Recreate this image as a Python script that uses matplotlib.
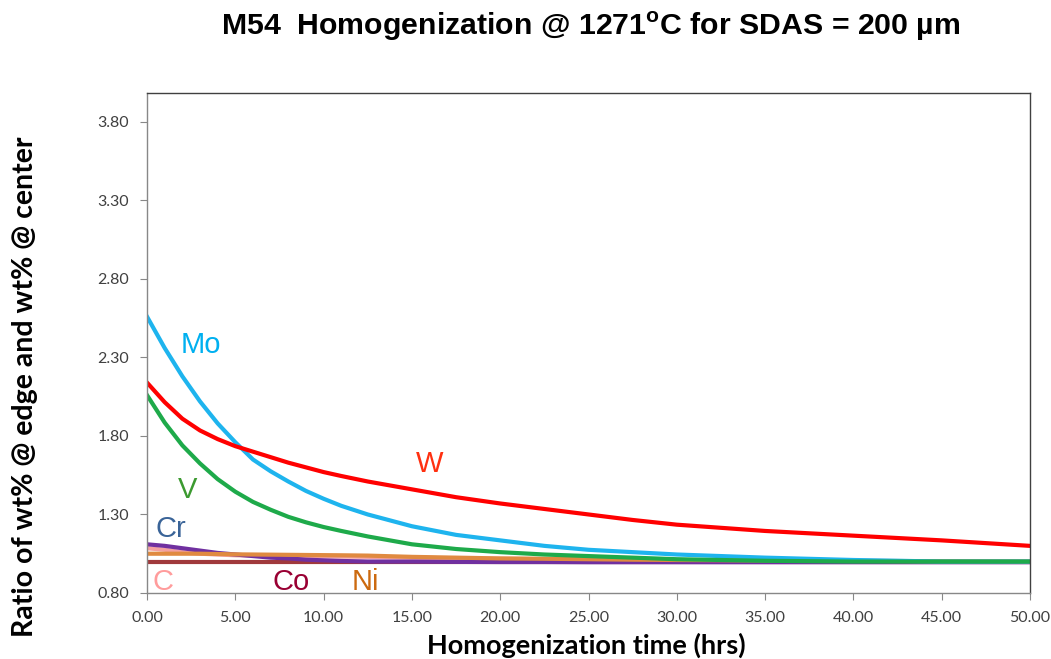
import matplotlib.pyplot as plt

plt.rcParams['mathtext.fontset'] = 'custom'
plt.rcParams['mathtext.rm'] = 'Liberation Sans:bold'
plt.rcParams['mathtext.bf'] = 'Liberation Sans:bold'

# homogenization time (hrs)
t = [0, 1, 2, 3, 4, 5, 6, 7, 8, 9, 10, 11, 12.5, 15, 17.5, 20, 22.5, 25, 27.5, 30, 35, 40, 45, 50]

# ratio wt% edge / wt% center for each element
mo = [2.56, 2.36, 2.18, 2.02, 1.88, 1.76, 1.65, 1.575, 1.51, 1.45, 1.40, 1.355, 1.30, 1.225,
      1.17, 1.135, 1.10, 1.075, 1.06, 1.045, 1.025, 1.01, 1.0, 1.0]
w = [2.14, 2.015, 1.91, 1.835, 1.78, 1.735, 1.70, 1.665, 1.63, 1.60, 1.57, 1.545, 1.51, 1.46,
     1.41, 1.37, 1.335, 1.30, 1.265, 1.235, 1.195, 1.165, 1.135, 1.10]
v = [2.06, 1.885, 1.74, 1.625, 1.525, 1.445, 1.38, 1.33, 1.285, 1.25, 1.22, 1.195, 1.16, 1.11,
     1.08, 1.06, 1.045, 1.035, 1.025, 1.015, 1.005, 1.0, 1.0, 1.0]
cr = [1.11, 1.10, 1.085, 1.07, 1.055, 1.045, 1.035, 1.025, 1.02, 1.012, 1.008, 1.004, 1.0, 1.0,
      0.998, 0.997, 0.997, 0.996, 0.996, 0.996, 0.996, 0.996, 0.996, 0.996]
c = [1.085, 1.075, 1.06, 1.05, 1.045, 1.04, 1.038, 1.036, 1.035, 1.034, 1.033, 1.032, 1.03, 1.025,
     1.02, 1.018, 1.015, 1.013, 1.01, 1.008, 1.005, 1.003, 1.0, 1.0]
ni = [1.05, 1.05, 1.05, 1.05, 1.048, 1.046, 1.045, 1.044, 1.043, 1.042, 1.041, 1.04, 1.038, 1.03,
      1.025, 1.02, 1.018, 1.015, 1.012, 1.01, 1.007, 1.005, 1.002, 1.0]
co = [0.997] * len(t)

xticks = [0, 5, 10, 15, 20, 25, 30, 35, 40, 45, 50]
yticks = [0.80, 1.30, 1.80, 2.30, 2.80, 3.30, 3.80]

fig = plt.figure(figsize=(10.51, 6.59), dpi=100)
ax = fig.add_axes([0.1399, 0.1002, 0.8401, 0.7588])

lw = 3
ax.plot(t, co, color='#A0393C', lw=lw)
ax.plot(t, c, color='#F4A0A0', lw=lw)
ax.plot(t, cr, color='#7030A0', lw=lw)
ax.plot(t, ni, color='#E08A40', lw=lw)
ax.plot(t, mo, color='#1EB4EE', lw=lw)
ax.plot(t, w, color='#FF0000', lw=lw)
ax.plot(t, v, color='#1EAA4A', lw=lw)

# element names next to their curves
lab = dict(fontsize=21, family='Liberation Sans', ha='center', va='baseline')
ax.text(3.03, 2.33, 'Mo', color='#00B0F0', **lab)
ax.text(16.03, 1.571, 'W', color='#FF3010', **lab)
ax.text(2.32, 1.405, 'V', color='#3C9A30', **lab)
ax.text(1.36, 1.157, 'Cr', color='#3A6498', **lab)
ax.text(0.9, 0.819, 'C', color='#FF9C9C', **lab)
ax.text(8.15, 0.819, 'Co', color='#990033', **lab)
ax.text(12.35, 0.819, 'Ni', color='#CC6A10', **lab)

ax.set_xlim(0, 50)
ax.set_ylim(0.8, 3.985)
ax.set_xticks(xticks)
ax.set_xticklabels(['%.2f' % x for x in xticks])
ax.set_yticks(yticks)
ax.set_yticklabels(['%.2f' % y for y in yticks])
ax.tick_params(direction='out', length=5, color='#888888', labelsize=11.5,
               labelcolor='#404040', pad=8)
for lbl in ax.get_xticklabels() + ax.get_yticklabels():
    lbl.set_family('Lato')

for s in ['left', 'bottom']:
    ax.spines[s].set_color('#888888')
for s in ['top', 'right']:
    ax.spines[s].set_color('#404040')
for s in ax.spines.values():
    s.set_linewidth(1)

ax.set_xlabel('Homogenization time (hrs)', fontsize=19.5, fontweight='bold',
              family='Lato', color='black', va='center')
ax.xaxis.set_label_coords(0.498, -0.104)
ax.set_ylabel('Ratio of wt% @ edge and wt% @ center', fontsize=20.5,
              fontweight='bold', family='Lato', color='black', va='center')
ax.yaxis.set_label_coords(-0.138, 0.412)

fig.text(0.562, 0.947, r'M54  Homogenization @ 1271$^\mathrm{o}$C for SDAS = 200 µm',
         ha='center', va='baseline', fontsize=21.8, fontweight='bold',
         family='Liberation Sans')

fig.savefig('out.png', dpi=100)
